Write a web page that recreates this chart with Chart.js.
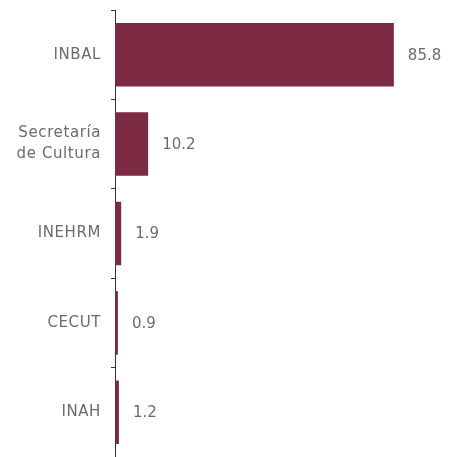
<!DOCTYPE html>
<html>
<head>
<meta charset="utf-8">
<script src="https://cdn.jsdelivr.net/npm/chart.js@4"></script>
<style>
  html, body { margin: 0; padding: 0; background: #fff; }
  #wrap { width: 449px; height: 457px; }
</style>
</head>
<body>
<div id="wrap"><canvas id="c"></canvas></div>
<script>
// ── DATA ──────────────────────────────────────────────
const CATEGORIES = ['INBAL', ['Secretaría', 'de Cultura'], 'INEHRM', 'CECUT', 'INAH'];
const VALUES = [85.8, 10.2, 1.9, 0.9, 1.2];
const X_MAX = 100;

const BAR_COLOR = '#7b2a42';
const TEXT_COLOR = '#6b6b6b';
const FONT = '"DejaVu Sans", sans-serif';

// wider tracking for the category labels (reference font is a wide sans)
const tracking = {
  id: 'tracking',
  beforeDraw(chart) { chart.ctx.letterSpacing = '0.6px'; },
  afterDraw(chart) { chart.ctx.letterSpacing = '0px'; }
};

// value labels to the right of each bar
const valueLabels = {
  id: 'valueLabels',
  afterDatasetsDraw(chart) {
    const ctx = chart.ctx;
    const meta = chart.getDatasetMeta(0);
    ctx.save();
    ctx.letterSpacing = '0px';
    ctx.font = '15px ' + FONT;
    ctx.fillStyle = TEXT_COLOR;
    ctx.textBaseline = 'middle';
    meta.data.forEach((bar, i) => {
      ctx.fillText(VALUES[i].toFixed(1), bar.x + 14, bar.y + 1);
    });
    ctx.restore();
  }
};

new Chart(document.getElementById('c'), {
  type: 'bar',
  data: {
    labels: CATEGORIES,
    datasets: [{
      data: VALUES,
      backgroundColor: BAR_COLOR,
      categoryPercentage: 1,
      barPercentage: 0.71
    }]
  },
  options: {
    indexAxis: 'y',
    responsive: true,
    maintainAspectRatio: false,
    animation: false,
    layout: { padding: { top: 10, right: 9, bottom: 0, left: 0 } },
    plugins: { legend: { display: false }, tooltip: { enabled: false } },
    scales: {
      x: { display: false, min: 0, max: X_MAX },
      y: {
        afterFit(scale) {
          scale.width = 115;
          scale.paddingTop = 0;
          scale.paddingBottom = 0;
        },
        border: { display: true, color: '#333', width: 1 },
        grid: { drawOnChartArea: false, tickLength: 4, color: '#333', offset: true },
        ticks: {
          color: TEXT_COLOR,
          font: { family: FONT, size: 15, lineHeight: 1.4 },
          padding: 10
        }
      }
    }
  },
  plugins: [tracking, valueLabels]
});
</script>
</body>
</html>
